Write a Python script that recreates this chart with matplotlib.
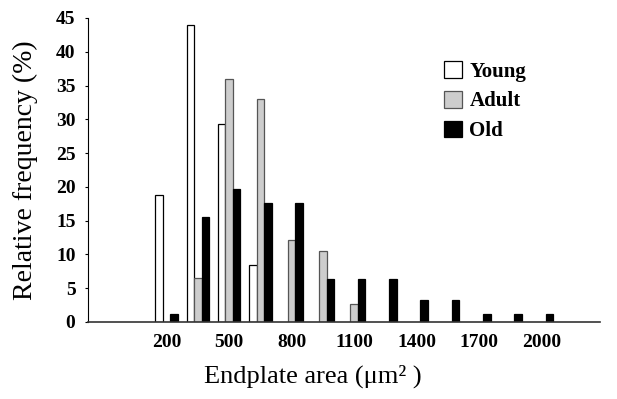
import matplotlib
matplotlib.use("Agg")
import matplotlib.pyplot as plt
import numpy as np
from matplotlib.patches import Patch

# endplate area bins (um^2) and relative frequency (%) per age group
bins = [200, 350, 500, 650, 800, 950, 1100, 1250, 1400, 1550, 1700, 1850, 2000]
young = [18.8, 44.0, 29.3, 8.4, 0, 0, 0, 0, 0, 0, 0, 0, 0]
adult = [0, 6.5, 36.0, 33.0, 12.1, 10.5, 2.6, 0, 0, 0, 0, 0, 0]
old = [1.2, 15.6, 19.7, 17.6, 17.6, 6.3, 6.3, 6.3, 3.3, 3.3, 1.2, 1.2, 1.2]
tick_labels = ['200', '500', '800', '1100', '1400', '1700', '2000']
groups = ['Young', 'Adult', 'Old']

plt.rcParams['font.family'] = ['Liberation Serif', 'DejaVu Serif']

fig = plt.figure(figsize=(6.17, 3.99), dpi=100)
ax = fig.add_axes([0.1426, 0.193, 0.8294, 0.762])

pos = np.arange(len(bins))
w = 0.24
styles = [dict(facecolor='white', edgecolor='black'),
          dict(facecolor='#cdcdcd', edgecolor='#555555'),
          dict(facecolor='black', edgecolor='black')]
for k, vals in enumerate([young, adult, old]):
    v = np.array(vals, dtype=float)
    m = v > 0
    ax.bar(pos[m] + (k - 1) * w, v[m], width=w, linewidth=0.9, **styles[k])

ax.set_xlim(-2.51, 13.85)
ax.set_ylim(0, 45)
ax.set_yticks(np.arange(0, 46, 5))
ax.set_xticks(pos[::2])
ax.set_xticklabels(tick_labels)
for lab in ax.get_xticklabels() + ax.get_yticklabels():
    lab.set_fontweight('bold')
    lab.set_fontsize(14)
ax.tick_params(axis='x', length=0, pad=9)
ax.tick_params(axis='y', length=2, pad=7, direction='out')

ax.spines['top'].set_visible(False)
ax.spines['right'].set_visible(False)
ax.spines['left'].set_linewidth(0.8)
ax.spines['bottom'].set_linewidth(1.2)
ax.spines['bottom'].set_color('#333333')

ax.set_ylabel('Relative frequency (%)', fontsize=20, va='center')
ax.yaxis.set_label_coords(-0.123, 0.5)
ax.set_xlabel('Endplate area (\u03bcm\u00b2 )', fontsize=19, va='center')
ax.xaxis.set_label_coords(0.44, -0.178)

handles = [Patch(label=g, linewidth=0.9, **s) for g, s in zip(groups, styles)]
leg = ax.legend(handles=handles, loc='upper left', bbox_to_anchor=(0.66, 0.92),
                frameon=False, handlelength=0.85, handleheight=0.85,
                handletextpad=0.35, labelspacing=0.45,
                prop=dict(weight='bold', size=15))

fig.savefig('out.png', dpi=100)
